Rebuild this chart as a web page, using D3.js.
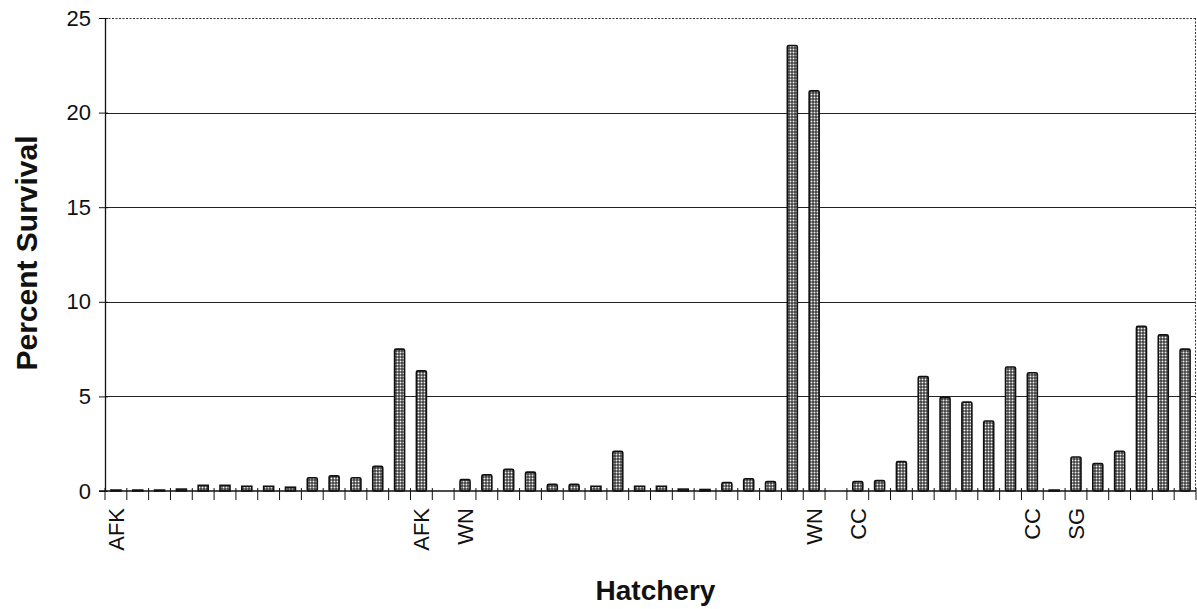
<!DOCTYPE html>
<html>
<head>
<meta charset="utf-8">
<script src="https://cdn.jsdelivr.net/npm/d3@7"></script>
<style>
  html, body { margin: 0; padding: 0; background: #fff; }
  svg { display: block; }
  text { font-family: "Liberation Sans", Arial, sans-serif; fill: #111; }
</style>
</head>
<body>
<svg id="chart" width="1197" height="609"></svg>
<script>
// ---- data ----
const categories = d3.range(50).map(i => "c" + i);
const hatcheryLabels = ["AFK","","","","","","","","","","","","","","AFK","","WN","","","","","","","","","","","","","","","","WN","","CC","","","","","","","","CC","","SG","","","","",""];
const survival = [0.05, 0.05, 0.05, 0.1, 0.3, 0.3, 0.25, 0.25, 0.2, 0.7,
                  0.8, 0.7, 1.3, 7.5, 6.35, 0, 0.6, 0.85, 1.15, 1.0,
                  0.35, 0.35, 0.25, 2.1, 0.25, 0.25, 0.1, 0.08, 0.45, 0.65,
                  0.5, 23.55, 21.15, 0, 0.5, 0.55, 1.55, 6.05, 4.95, 4.7,
                  3.7, 6.55, 6.25, 0.05, 1.8, 1.45, 2.1, 8.7, 8.25, 7.5];
const yTicks = [0, 5, 10, 15, 20, 25];
const yTitle = "Percent Survival";
const xTitle = "Hatchery";

(function () {
// ---- layout ----
const svg = d3.select("#chart");
const mLeft = 105, mRight = 1196, mTop = 18, mBottom = 491;

const x = d3.scaleBand().domain(categories).range([mLeft, mRight]).paddingInner(0).paddingOuter(0);
const y = d3.scaleLinear().domain([0, 25]).range([mBottom, mTop]);

// pattern for stippled bars
const defs = svg.append("defs");
const pat = defs.append("pattern").attr("id", "stipple")
  .attr("patternUnits", "userSpaceOnUse").attr("width", 3).attr("height", 3);
pat.append("rect").attr("width", 3).attr("height", 3).attr("fill", "#3f3f3f");
pat.append("circle").attr("cx", 1.5).attr("cy", 1.5).attr("r", 1.0).attr("fill", "#eeeeee");

// gridlines (5..20 solid)
svg.append("g").selectAll("line").data(yTicks.filter(t => t > 0 && t < 25)).join("line")
  .attr("x1", mLeft).attr("x2", mRight)
  .attr("y1", d => Math.round(y(d)) + 0.5).attr("y2", d => Math.round(y(d)) + 0.5)
  .attr("stroke", "#222").attr("stroke-width", 1);

// top & right dotted borders
svg.append("line").attr("x1", mLeft).attr("x2", mRight).attr("y1", y(25) + 0.5).attr("y2", y(25) + 0.5)
  .attr("stroke", "#333").attr("stroke-width", 1).attr("stroke-dasharray", "2,1.5");
svg.append("line").attr("x1", mRight - 0.5).attr("x2", mRight - 0.5).attr("y1", y(25)).attr("y2", y(0))
  .attr("stroke", "#333").attr("stroke-width", 1).attr("stroke-dasharray", "2,1.5");

// bars
const bw = 10;
svg.append("g").selectAll("rect").data(survival).join("rect")
  .attr("x", (d, i) => x(categories[i]) + x.bandwidth() / 2 - bw / 2)
  .attr("y", d => y(d))
  .attr("width", bw)
  .attr("height", d => y(0) - y(d))
  .attr("rx", d => d > 0.3 ? 1.5 : 0)
  .attr("fill", "url(#stipple)")
  .attr("stroke", d => d > 0 ? "#111" : "none")
  .attr("stroke-width", 1.6);

// y axis
const yAxis = d3.axisLeft(y).tickValues(yTicks).tickSizeInner(6).tickSizeOuter(0).tickPadding(8);
const gy = svg.append("g").attr("transform", `translate(${mLeft},0)`).call(yAxis);
gy.select(".domain").attr("stroke", "#111").attr("stroke-width", 1.3);
gy.selectAll(".tick line").attr("stroke", "#111").attr("x2", -6).attr("x1", 3);
gy.selectAll(".tick text").attr("font-size", 22).attr("fill", "#111")
  .style("font-family", '"Liberation Sans", Arial, sans-serif');

// x axis baseline with boundary ticks
svg.append("line").attr("x1", mLeft - 6).attr("x2", mRight).attr("y1", y(0)).attr("y2", y(0))
  .attr("stroke", "#111").attr("stroke-width", 1.3);
const boundaries = categories.map(c => x(c)).concat([mRight]);
svg.append("g").selectAll("line").data(boundaries).join("line")
  .attr("x1", d => d).attr("x2", d => d)
  .attr("y1", y(0) - 3).attr("y2", y(0) + 9)
  .attr("stroke", "#111").attr("stroke-width", 1);

// category labels (rotated)
svg.append("g").selectAll("text").data(hatcheryLabels).join("text")
  .attr("transform", (d, i) => `translate(${x(categories[i]) + x.bandwidth() / 2 + 8},${y(0) + 17}) rotate(-90)`)
  .attr("text-anchor", "end")
  .attr("font-size", 22)
  .text(d => d);

// axis titles
svg.append("text").attr("x", (mLeft + mRight) / 2 + 5).attr("y", 600)
  .attr("text-anchor", "middle").attr("font-size", 28).attr("font-weight", "bold").text(xTitle);
svg.append("text").attr("transform", `translate(37,253) rotate(-90)`)
  .attr("text-anchor", "middle").attr("font-size", 30).attr("font-weight", "bold").text(yTitle);
})();
</script>
</body>
</html>
